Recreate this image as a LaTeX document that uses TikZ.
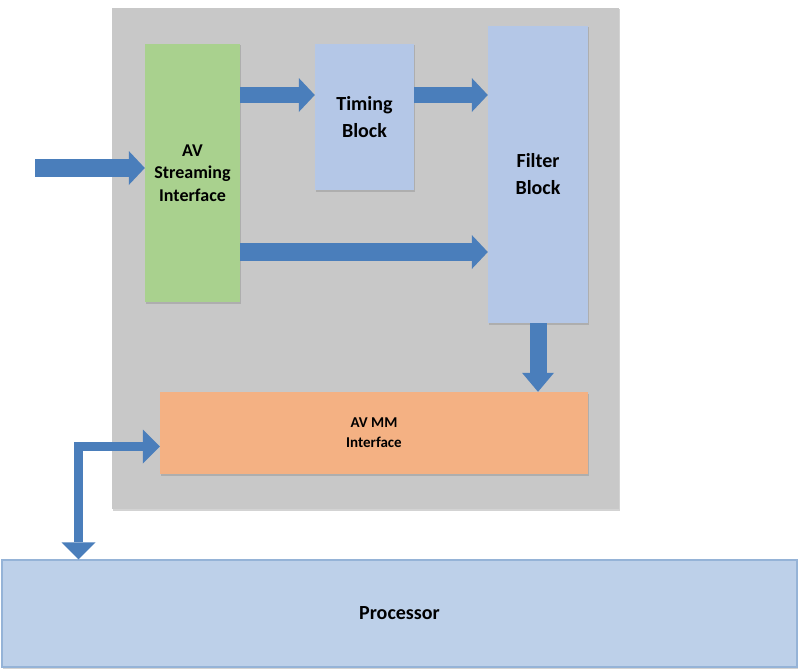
\documentclass[tikz,border=0pt]{standalone}
\usepackage{fontspec}
\setmainfont{Carlito}
\usepackage{tikz}
\usetikzlibrary{
  calc,
  positioning,
  arrows.meta,
  shadows
}
\definecolor{panelgray}{HTML}{C8C8C8}
\definecolor{streamgreen}{HTML}{A9D18E}
\definecolor{blockblue}{HTML}{B4C7E7}
\definecolor{mmorange}{HTML}{F4B183}
\definecolor{procblue}{HTML}{BDD0E9}
\definecolor{procedge}{HTML}{95B3D7}
\definecolor{arrowblue}{HTML}{4A7EBB}

\begin{document}
\begin{tikzpicture}[x=1pt,y=-1pt]
  \tikzset{
    box/.style={
      inner sep=0pt, align=center, font=\bfseries,
      drop shadow={shadow xshift=1pt,shadow yshift=-1.5pt,opacity=.35}
    },
    fat/.style={
      draw=arrowblue, line width=18pt,
      -{Triangle[width=34pt,length=16pt,line width=0pt]}
    },
    slim/.style={
      draw=arrowblue, line width=9.5pt,
      {Triangle[width=34pt,length=17pt,line width=0pt]}-{Triangle[width=34pt,length=17pt,line width=0pt]}
    },
  }
  \useasboundingbox (0,0) rectangle (800,669);

  % panel and blocks
  \node[box, fill=panelgray, minimum width=507pt, minimum height=501pt]
    (panel) at (365.5,258.5) {};
  \node[box, fill=streamgreen, minimum width=95pt, minimum height=258pt,
    font=\bfseries\fontsize{18}{22.5}\selectfont]
    (stream) at (192.5,173) {AV\\Streaming\\Interface};
  \node[box, fill=blockblue, minimum width=99pt, minimum height=146pt,
    font=\bfseries\fontsize{20}{27}\selectfont]
    (timing) at (364.5,117) {Timing\\Block};
  \node[box, fill=blockblue, minimum width=100pt, minimum height=297pt,
    font=\bfseries\fontsize{20}{27}\selectfont]
    (filter) at (538,174.5) {Filter\\Block};
  \node[box, fill=mmorange, minimum width=428pt, minimum height=82pt,
    font=\bfseries\fontsize{15}{20}\selectfont]
    (mm) at (374,433) {AV MM\\Interface};
  \node[box, fill=procblue, draw=procedge, line width=1.2pt,
    minimum width=795pt, minimum height=107pt,
    font=\bfseries\fontsize{20}{24}\selectfont]
    (proc) at (399.5,613.5) {Processor};

  \coordinate (in) at (35,168);
  \coordinate (row1) at (0,95);
  \coordinate (row2) at (0,252);
  \coordinate (row3) at (0,446.5);
  \coordinate (col) at (78.5,0);

  % data paths
  \draw[fat] (in) -- (stream.west |- in);
  \draw[fat, line width=16pt] (stream.east |- row1) -- (timing.west |- row1);
  \draw[fat, line width=16pt] (timing.east |- row1) -- (filter.west |- row1);
  \draw[fat] (stream.east |- row2) -- (filter.west |- row2);
  \draw[fat, line width=17pt,
    -{Triangle[width=32pt,length=19pt,line width=0pt]}]
    (filter.south) -- (mm.north -| filter.south);
  \draw[slim] (mm.west |- row3) -| (proc.north -| col);

\end{tikzpicture}
\end{document}
